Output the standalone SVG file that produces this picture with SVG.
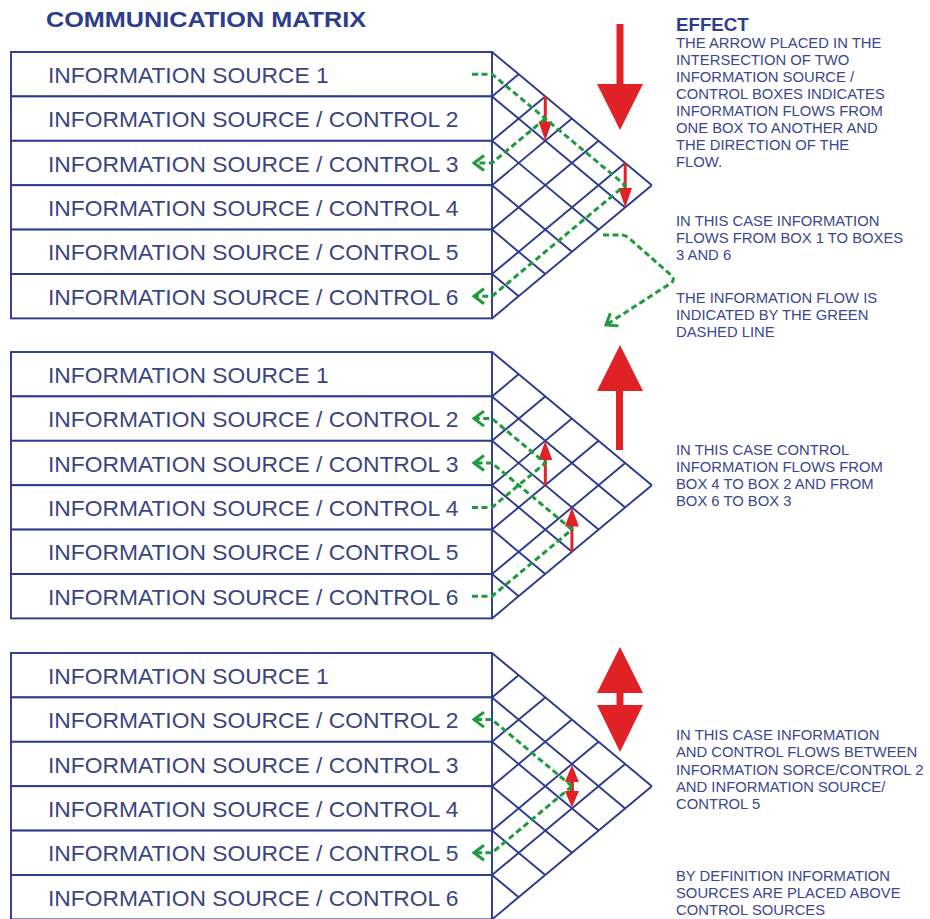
<svg xmlns="http://www.w3.org/2000/svg" xmlns:xlink="http://www.w3.org/1999/xlink" width="930" height="919" viewBox="0 0 930 919">
<style>
.box{fill:#ffffff;stroke:#2b3a8c;stroke-width:1.9}
.grid{fill:none;stroke:#2b3a8c;stroke-width:1.9}
.lbl{font-family:"Liberation Sans",Arial,sans-serif;font-size:22.8px;fill:#3b4580}
.title{font-family:"Liberation Sans",Arial,sans-serif;font-size:22px;font-weight:bold;fill:#2c3d8c}
.note{font-family:"Liberation Sans",Arial,sans-serif;font-size:14.8px;fill:#3a478e}
.head{font-family:"Liberation Sans",Arial,sans-serif;font-size:18.7px;font-weight:bold;fill:#2c3d8c}
.flow{fill:none;stroke:#1f9a3c;stroke-width:3;stroke-dasharray:6 3.5;marker-end:url(#chev)}
.red{fill:#e02226}
</style>
<defs>
<marker id="chev" markerUnits="userSpaceOnUse" viewBox="-13 -10 16 20" markerWidth="16" markerHeight="20" refX="0" refY="0" orient="auto">
<path d="M-10,-7.5 L0,0 L-10,7.5" fill="none" stroke="#1f9a3c" stroke-width="3"/>
</marker>
<g id="mgrid">
<path class="grid" d="M492 0 L651.84 133.2 M492 44.4 L625.2 155.4 M492 88.8 L598.56 177.6 M492 133.2 L571.92 199.8 M492 177.6 L545.28 222 M492 222 L518.64 244.2 M492 44.4 L518.64 22.2 M492 88.8 L545.28 44.4 M492 133.2 L571.92 66.6 M492 177.6 L598.56 88.8 M492 222 L625.2 111 M492 266.4 L651.84 133.2"/>
</g>
</defs>

<text class="title" x="46" y="27.3" textLength="320" lengthAdjust="spacingAndGlyphs">COMMUNICATION MATRIX</text>

<!-- Matrix 1 -->
<g id="matrix1">
<use xlink:href="#mgrid" href="#mgrid" transform="translate(0,52)"/>
<g id="m1-box1"><rect class="box" x="11" y="52" width="481" height="44.4"/><text class="lbl" x="48" y="82.7">INFORMATION SOURCE 1</text></g>
<g id="m1-box2"><rect class="box" x="11" y="96.4" width="481" height="44.4"/><text class="lbl" x="48" y="127.1">INFORMATION SOURCE / CONTROL 2</text></g>
<g id="m1-box3"><rect class="box" x="11" y="140.8" width="481" height="44.4"/><text class="lbl" x="48" y="171.5">INFORMATION SOURCE / CONTROL 3</text></g>
<g id="m1-box4"><rect class="box" x="11" y="185.2" width="481" height="44.4"/><text class="lbl" x="48" y="215.9">INFORMATION SOURCE / CONTROL 4</text></g>
<g id="m1-box5"><rect class="box" x="11" y="229.6" width="481" height="44.4"/><text class="lbl" x="48" y="260.3">INFORMATION SOURCE / CONTROL 5</text></g>
<g id="m1-box6"><rect class="box" x="11" y="274" width="481" height="44.4"/><text class="lbl" x="48" y="304.7">INFORMATION SOURCE / CONTROL 6</text></g>
</g>

<!-- Matrix 2 -->
<g id="matrix2">
<use xlink:href="#mgrid" href="#mgrid" transform="translate(0,352)"/>
<g id="m2-box1"><rect class="box" x="11" y="352" width="481" height="44.4"/><text class="lbl" x="48" y="382.7">INFORMATION SOURCE 1</text></g>
<g id="m2-box2"><rect class="box" x="11" y="396.4" width="481" height="44.4"/><text class="lbl" x="48" y="427.1">INFORMATION SOURCE / CONTROL 2</text></g>
<g id="m2-box3"><rect class="box" x="11" y="440.8" width="481" height="44.4"/><text class="lbl" x="48" y="471.5">INFORMATION SOURCE / CONTROL 3</text></g>
<g id="m2-box4"><rect class="box" x="11" y="485.2" width="481" height="44.4"/><text class="lbl" x="48" y="515.9">INFORMATION SOURCE / CONTROL 4</text></g>
<g id="m2-box5"><rect class="box" x="11" y="529.6" width="481" height="44.4"/><text class="lbl" x="48" y="560.3">INFORMATION SOURCE / CONTROL 5</text></g>
<g id="m2-box6"><rect class="box" x="11" y="574" width="481" height="44.4"/><text class="lbl" x="48" y="604.7">INFORMATION SOURCE / CONTROL 6</text></g>
</g>

<!-- Matrix 3 -->
<g id="matrix3">
<use xlink:href="#mgrid" href="#mgrid" transform="translate(0,653)"/>
<g id="m3-box1"><rect class="box" x="11" y="653" width="481" height="44.4"/><text class="lbl" x="48" y="683.7">INFORMATION SOURCE 1</text></g>
<g id="m3-box2"><rect class="box" x="11" y="697.4" width="481" height="44.4"/><text class="lbl" x="48" y="728.1">INFORMATION SOURCE / CONTROL 2</text></g>
<g id="m3-box3"><rect class="box" x="11" y="741.8" width="481" height="44.4"/><text class="lbl" x="48" y="772.5">INFORMATION SOURCE / CONTROL 3</text></g>
<g id="m3-box4"><rect class="box" x="11" y="786.2" width="481" height="44.4"/><text class="lbl" x="48" y="816.9">INFORMATION SOURCE / CONTROL 4</text></g>
<g id="m3-box5"><rect class="box" x="11" y="830.6" width="481" height="44.4"/><text class="lbl" x="48" y="861.3">INFORMATION SOURCE / CONTROL 5</text></g>
<g id="m3-box6"><rect class="box" x="11" y="875" width="481" height="44.4"/><text class="lbl" x="48" y="905.7">INFORMATION SOURCE / CONTROL 6</text></g>
</g>

<!-- Red cell arrows -->
<g id="cell-arrows" class="red">
<rect x="543.8" y="96.4" width="3" height="26"/><polygon points="538.5,121.5 552,121.5 545.28,140.8"/>
<rect x="623.7" y="163" width="3" height="26"/><polygon points="618.5,188 632,188 625.2,207.4"/>
<polygon points="545.28,441 538.3,460 552.3,460"/><rect x="543.8" y="458" width="3" height="27.2"/>
<polygon points="571.92,507.6 564.9,526.6 578.9,526.6"/><rect x="570.4" y="524.6" width="3" height="27.2"/>
<polygon points="571.92,765 564.9,782 578.9,782"/><rect x="569.9" y="781" width="4" height="11"/><polygon points="564.9,791 578.9,791 571.92,807.6"/>
</g>

<!-- Big red legend arrows -->
<g id="big-arrow-down" class="red"><rect x="616.5" y="24" width="7" height="62"/><polygon points="597,84 643,84 620,130"/></g>
<g id="big-arrow-up" class="red"><polygon points="620,345 597,391 643,391"/><rect x="616" y="389" width="7" height="61"/></g>
<g id="big-arrow-both" class="red"><polygon points="620,647 597,693 643,693"/><rect x="616.5" y="691" width="7" height="16"/><polygon points="597,705 643,705 620,752"/></g>

<!-- Connectors -->
<g id="connectors">
<path class="flow" d="M472 74.2 H492 L625.2 185.2 L492 296.2 H474"/>
<path class="flow" d="M545.28 118.6 L492 163 H474"/>
<path class="flow" d="M603 235 H621 Q626 235 630 239 L672 276 Q675 280 671 283 L606 325"/>
<path class="flow" d="M472 507.4 H492 L545.28 463 L492 418.6 H474"/>
<path class="flow" d="M472 596.2 H492 L571.92 529.6 L492 463 H474"/>
<path class="flow" d="M571.92 786.2 L492 719.6 H474"/>
<path class="flow" d="M571.92 786.2 L492 852.8 H474"/>
</g>

<!-- Notes -->
<g id="note-effect">
<text class="head" x="676" y="30.7">EFFECT</text>
<text class="note" x="676" y="48.3">THE ARROW PLACED IN THE</text>
<text class="note" x="676" y="65.2">INTERSECTION OF TWO</text>
<text class="note" x="676" y="82.1">INFORMATION SOURCE /</text>
<text class="note" x="676" y="99">CONTROL BOXES INDICATES</text>
<text class="note" x="676" y="115.9">INFORMATION FLOWS FROM</text>
<text class="note" x="676" y="132.8">ONE BOX TO ANOTHER AND</text>
<text class="note" x="676" y="149.7">THE DIRECTION OF THE</text>
<text class="note" x="676" y="166.6">FLOW.</text>
</g>
<g id="note-case1">
<text class="note" x="676" y="226">IN THIS CASE INFORMATION</text>
<text class="note" x="676" y="243">FLOWS FROM BOX 1 TO BOXES</text>
<text class="note" x="676" y="260">3 AND 6</text>
</g>
<g id="note-dashed">
<text class="note" x="676" y="303.3">THE INFORMATION FLOW IS</text>
<text class="note" x="676" y="320">INDICATED BY THE GREEN</text>
<text class="note" x="676" y="336.7">DASHED LINE</text>
</g>
<g id="note-case2">
<text class="note" x="676" y="454.7">IN THIS CASE CONTROL</text>
<text class="note" x="676" y="471.7">INFORMATION FLOWS FROM</text>
<text class="note" x="676" y="489">BOX 4 TO BOX 2 AND FROM</text>
<text class="note" x="676" y="506.3">BOX 6 TO BOX 3</text>
</g>
<g id="note-case3">
<text class="note" x="676" y="740">IN THIS CASE INFORMATION</text>
<text class="note" x="676" y="757">AND CONTROL FLOWS BETWEEN</text>
<text class="note" x="676" y="774.5">INFORMATION SORCE/CONTROL 2</text>
<text class="note" x="676" y="791.5">AND INFORMATION SOURCE/</text>
<text class="note" x="676" y="809">CONTROL 5</text>
</g>
<g id="note-definition">
<text class="note" x="676" y="880.7">BY DEFINITION INFORMATION</text>
<text class="note" x="676" y="898">SOURCES ARE PLACED ABOVE</text>
<text class="note" x="676" y="915">CONTROL SOURCES</text>
</g>
</svg>
